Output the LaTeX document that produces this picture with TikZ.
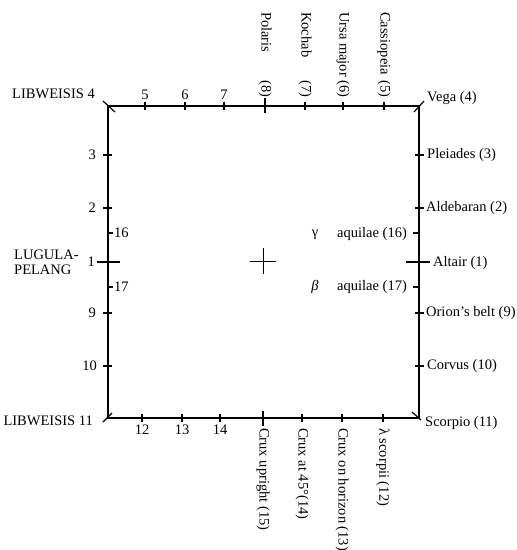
\documentclass[tikz,border=0pt]{standalone}
\usepackage{fontspec}
\setmainfont{Liberation Serif}
\newcommand\lblfont{\fontsize{14.5}{15}\selectfont}
\tikzset{
  frame/.style={line width=1.7pt, line join=miter},
  diag/.style={line width=1.2pt},
  tickmark/.style={line width=1.2pt},
  crossmark/.style={line width=0.8pt},
  lbl/.style={font=\lblfont, inner sep=0pt},
  vlbl/.style={lbl, rotate=-90, anchor=west},
}
\begin{document}
\begin{tikzpicture}[x=1pt,y=-1pt]
\useasboundingbox (0,0) rectangle (517,550);
% frame corners
\coordinate (TL) at (108,106);
\coordinate (TR) at (419,106);
\coordinate (BL) at (108,418);
\coordinate (BR) at (419,418);
\draw[frame] (TL) -- (TR) -- (BR) -- (BL) -- cycle;
% corner diagonals
\draw[diag] (TL) ++(-5,-5) -- ++(12,11);
\draw[diag] (TR) ++(5,-5) -- ++(-10,11);
\draw[diag] (BL) ++(-5,4) -- ++(9,-9);
\draw[diag] (BR) ++(-7,-6) -- ++(9,8);
% top ticks
\foreach \x in {145,185,224,305,343,384} \draw[tickmark] (\x,102) -- (\x,110);
\draw[tickmark] (265,98) -- (265,113);
% bottom ticks
\foreach \x in {142,182,220,302,342,383} \draw[tickmark] (\x,414) -- (\x,422);
\draw[tickmark] (263,411) -- (263,426);
% left ticks
\foreach \y in {155,208,313,366} \draw[tickmark] (103,\y) -- (112,\y);
\foreach \y in {233,287} \draw[tickmark] (108,\y) -- (113,\y);
\draw[tickmark] (97,262) -- (120,262);
% right ticks
\foreach \y in {155,208,313,366} \draw[tickmark] (415,\y) -- (424,\y);
\foreach \y in {233,287} \draw[tickmark] (413,\y) -- (419,\y);
\draw[tickmark] (406,262) -- (430,262);
% centre cross
\draw[crossmark] (250,261) -- (276,261);
\draw[crossmark] (263,248) -- (263,274);
% corner labels
\node[lbl, anchor=east] (lib4) at (95,94) {LIBWEISIS 4};
\node[lbl, anchor=west] (vega) at (427,98) {Vega (4)};
\node[lbl, anchor=east] (lib11) at (93,421) {LIBWEISIS 11};
\node[lbl, anchor=west] (scorpio) at (425,423) {Scorpio (11)};
% top labels
\node[lbl] (t5) at (145,95) {5};
\node[lbl] (t6) at (185,95) {6};
\node[lbl] (t7) at (224,95) {7};
\node[vlbl] (polaris) at (265,12) {\makebox[85pt][l]{Polaris\hfill(8)}};
\node[vlbl] (kochab) at (305,12) {\makebox[85pt][l]{Kochab\hfill(7)}};
\node[vlbl] (ursa) at (343,12) {\makebox[85pt][l]{Ursa major\hfill(6)}};
\node[vlbl] (cass) at (384,12) {\makebox[85pt][l]{Cassiopeia\hfill(5)}};
% left labels
\node[lbl, anchor=east] (l3) at (96,155) {3};
\node[lbl, anchor=east] (l2) at (96,208) {2};
\node[lbl, anchor=east] (l1) at (95,262) {1};
\node[lbl, anchor=east] (l9) at (96,313) {9};
\node[lbl, anchor=east] (l10) at (97,366) {10};
\node[lbl, anchor=west] (l16) at (114,233) {16};
\node[lbl, anchor=west] (l17) at (114,287) {17};
\node[lbl, anchor=west, align=left] (lugula) at (14,262) {LUGULA-\\PELANG};
% right labels
\node[lbl, anchor=west] (pleiades) at (427,155) {Pleiades (3)};
\node[lbl, anchor=west] (aldebaran) at (426,208) {Aldebaran (2)};
\node[lbl, anchor=west] (altair) at (433,263) {Altair (1)};
\node[lbl, anchor=west] (orion) at (426,313) {Orion's belt (9)};
\node[lbl, anchor=west] (corvus) at (427,366) {Corvus (10)};
% inner labels
\node[lbl] (gamma) at (315,235) {γ};
\node[lbl, anchor=west] (gaq) at (337,234) {aquilae (16)};
\node[lbl] (beta) at (315,287) {\itshape β};
\node[lbl, anchor=west] (baq) at (337,287) {aquilae (17)};
% bottom labels
\node[lbl] (b12) at (142,430) {12};
\node[lbl] (b13) at (182,430) {13};
\node[lbl] (b14) at (220,430) {14};
\node[vlbl] (crux15) at (263,428) {Crux upright (15)};
\node[vlbl] (crux14) at (302,428) {Crux at 45°(14)};
\node[vlbl] (crux13) at (342,428) {Crux on horizon (13)};
\node[vlbl] (lambda) at (383,428) {λ scorpii (12)};
\end{tikzpicture}
\end{document}
